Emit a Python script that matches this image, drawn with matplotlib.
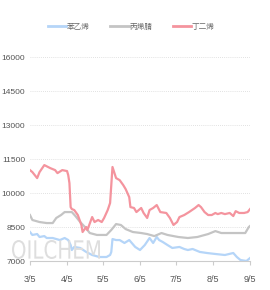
import datetime as dt

import matplotlib

matplotlib.use("Agg")
import matplotlib.dates as mdates
import matplotlib.pyplot as plt
from matplotlib.font_manager import FontProperties
from matplotlib.patches import PathPatch
from matplotlib.textpath import TextPath
from matplotlib.transforms import Affine2D, IdentityTransform

START = dt.date(2023, 3, 5)

# day offsets from 3/5 and prices
red_days = [0, 2.5, 6, 8, 12.5, 17, 21, 23, 27.5, 31, 32.6, 33.4, 34, 35, 37.6, 40, 43.5,
            44.3, 47, 48.5, 52, 54, 57.7, 60, 62.7, 65, 67.7, 69.4, 72, 75, 78, 80, 83,
            84.5, 87, 89.5, 93, 95, 98.7, 100, 103, 106, 109.5, 114.5, 117, 120.4, 123,
            125.4, 129.6, 133.8, 138, 141, 143, 146, 149, 152, 155, 157, 160.5, 163, 167,
            170, 172, 175.6, 179, 182, 184]
red_vals = [11013, 10925, 10660, 10925, 11234, 11100, 11013, 10880, 11013, 10970, 10790,
            10440, 9380, 9293, 9250, 9030, 8590, 8280, 8500, 8370, 8940, 8720, 8810, 8720,
            8900, 9250, 9560, 11150, 10660, 10570, 10350, 10175, 9820, 9380, 9340, 9160,
            9340, 9120, 8900, 9250, 9340, 9470, 9160, 9120, 8900, 8590, 8720, 8940, 9030,
            9160, 9340, 9470, 9380, 9160, 9030, 9030, 9120, 9070, 9120, 9070, 9120, 8985,
            9200, 9120, 9120, 9160, 9290]

gray_days = [0, 2.5, 8, 14, 19, 22.6, 26, 29, 35, 38.5, 42, 46, 50, 56, 64, 68.6, 72.7,
             76, 80, 86, 93.6, 98.7, 104.5, 110, 115, 124, 132, 140.5, 149, 155, 160.5,
             171, 180, 183, 184]
gray_vals = [9030, 8810, 8720, 8675, 8675, 8900, 9030, 9160, 9160, 8985, 8720, 8500, 8235,
             8150, 8150, 8370, 8630, 8590, 8410, 8280, 8235, 8190, 8100, 8235, 8150, 8060,
             8015, 8060, 8190, 8320, 8235, 8235, 8235, 8500, 8545]

blue_days = [0, 2.5, 6, 8, 12, 14, 19, 25, 29, 32.6, 34, 35, 37.6, 42, 47.7, 52.7, 58.5,
             64, 67, 68.6, 69.4, 72.7, 75, 79.4, 83.6, 88, 92, 96, 100, 103, 106, 108.7,
             111, 115, 119.6, 125.4, 129.6, 132, 136, 142, 148, 155, 163, 170, 173, 176,
             181, 184]
blue_vals = [8280, 8150, 8190, 8060, 8100, 8015, 8015, 7925, 8015, 7925, 7705, 7485, 7620,
             7575, 7400, 7265, 7176, 7176, 7265, 7400, 7970, 7925, 7925, 7795, 7925, 7620,
             7485, 7705, 8015, 7795, 8060, 7925, 7840, 7705, 7575, 7620, 7530, 7485, 7530,
             7400, 7353, 7310, 7265, 7353, 7176, 7044, 7000, 7130]

series_names = ["苯乙烯", "丙烯腈", "丁二烯"]
series_colors = ["#b5d5f8", "#c4c4c4", "#f4949e"]
y_ticks = [7000, 8500, 10000, 11500, 13000, 14500, 16000]
x_tick_dates = [dt.date(2023, m, 5) for m in range(3, 10)]


def to_dates(days):
    return [START + dt.timedelta(days=d) for d in days]


cjk = ["Noto Sans CJK SC", "DejaVu Sans"]

fig = plt.figure(figsize=(2.7, 2.9), dpi=100)
ax = fig.add_axes([0.111, 0.1, 0.815, 0.703])

# condensed watermark, drawn in figure pixels behind the lines
mark = TextPath((0, 0), "OILCHEM", size=1, prop=FontProperties(family="DejaVu Sans"))
ext = mark.get_extents()
sx = 88 / ext.width
sy = 19 / ext.height
mark_tf = Affine2D().translate(-ext.x0, -ext.y0).scale(sx, sy).translate(12, 290 - 259)
fig.patches.append(PathPatch(mark, transform=mark_tf + IdentityTransform(),
                             facecolor="#dedede", edgecolor="none", zorder=0))

for days, vals, name, color in zip(
    [blue_days, gray_days, red_days],
    [blue_vals, gray_vals, red_vals],
    series_names,
    series_colors,
    strict=True,
):
    ax.plot(to_dates(days), vals, color=color, linewidth=1.6, label=name, zorder=2)

ax.set_facecolor("none")
ax.set_xlim(START, dt.date(2023, 9, 5))
ax.set_ylim(7000, 16000)
ax.set_yticks(y_ticks)
ax.set_xticks(x_tick_dates)
ax.xaxis.set_major_formatter(mdates.DateFormatter("%-m/%-d"))
ax.grid(axis="y", linestyle=(0, (1, 1.5)), color="#d8d8d8", linewidth=0.6)
ax.set_axisbelow(True)

for side in ["top", "right", "left"]:
    ax.spines[side].set_visible(False)
ax.spines["bottom"].set_color("#cccccc")
ax.spines["bottom"].set_linewidth(0.8)
ax.tick_params(axis="y", length=0, pad=3.5, labelsize=6, labelcolor="#555555")
ax.tick_params(axis="x", length=3, color="#cccccc", pad=7, labelsize=6.5,
               labelcolor="#555555")
for lab in ax.get_xticklabels() + ax.get_yticklabels():
    lab.set_family("Liberation Sans")

leg = ax.legend(loc="center", bbox_to_anchor=(0.46, 1.147), ncol=3, frameon=False,
                prop={"family": cjk, "size": 5.5}, handlelength=2.4, handletextpad=0.1,
                columnspacing=2.7, labelcolor="#666666")
for line in leg.get_lines():
    line.set_linewidth(2)

fig.savefig("out.png", dpi=100)
